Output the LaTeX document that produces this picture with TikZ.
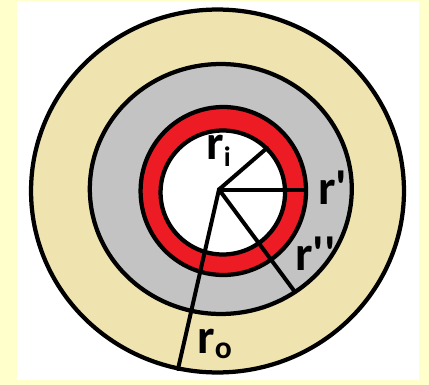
\documentclass[tikz,border=0pt]{standalone}
\usepackage{fontspec}
\usepackage{xcolor}
\newfontfamily\lblfont{Carlito}
\usetikzlibrary{positioning}
\definecolor{paperyellow}{RGB}{255,255,204}
\definecolor{shelltan}{RGB}{239,228,176}
\definecolor{shellgray}{RGB}{195,195,195}
\definecolor{shellred}{RGB}{237,28,36}

\begin{document}
\begin{tikzpicture}[
      x=0.02cm, y=-0.02cm,
      ring/.style={draw=black, line width=0.085cm},
      radline/.style={draw=black, line width=0.08cm, line cap=round},
      lbl/.style={font=\lblfont\bfseries\fontsize{28}{28}\selectfont, inner sep=0pt, anchor=base west}
    ]
      \useasboundingbox (0,0) rectangle (429,385);
      \fill[paperyellow] (0,0) rectangle (429,385);
      \fill[white] (17,1) rectangle (419,380);

      % shells, outside in
      \draw[ring, fill=shelltan] (217.5,191) ellipse [x radius=3.73cm, y radius=3.63cm];
      \draw[ring, fill=shellgray] (220.8,189) ellipse [x radius=2.62cm, y radius=2.50cm];
      \draw[ring, fill=shellred] (223.3,191) ellipse [x radius=1.655cm, y radius=1.68cm];
      \draw[ring, fill=white] (222.8,192.5) ellipse [x radius=1.245cm, y radius=1.24cm];

      \coordinate (c) at (219,189.5);
      \coordinate (ei) at (267,148);
      \coordinate (ep) at (306,189.5);
      \coordinate (epp) at (295,292);
      \coordinate (eo) at (178,369);

      \draw[radline] (c) -- (ei);
      \draw[radline] (c) -- (ep);
      \draw[radline] (c) -- (epp);
      \draw[radline] (c) -- (eo);

      \node[lbl] (ri) at (206,159) {r\raisebox{-4.5pt}{\fontsize{16}{16}\selectfont i}};
      \node[lbl] (rp) at (318,204) {r'};
      \node[lbl] (rpp) at (295,270) {r''};
      \node[lbl] (ro) at (197,353) {r\raisebox{-3pt}{\fontsize{18}{18}\selectfont o}};
    \end{tikzpicture}
\end{document}
